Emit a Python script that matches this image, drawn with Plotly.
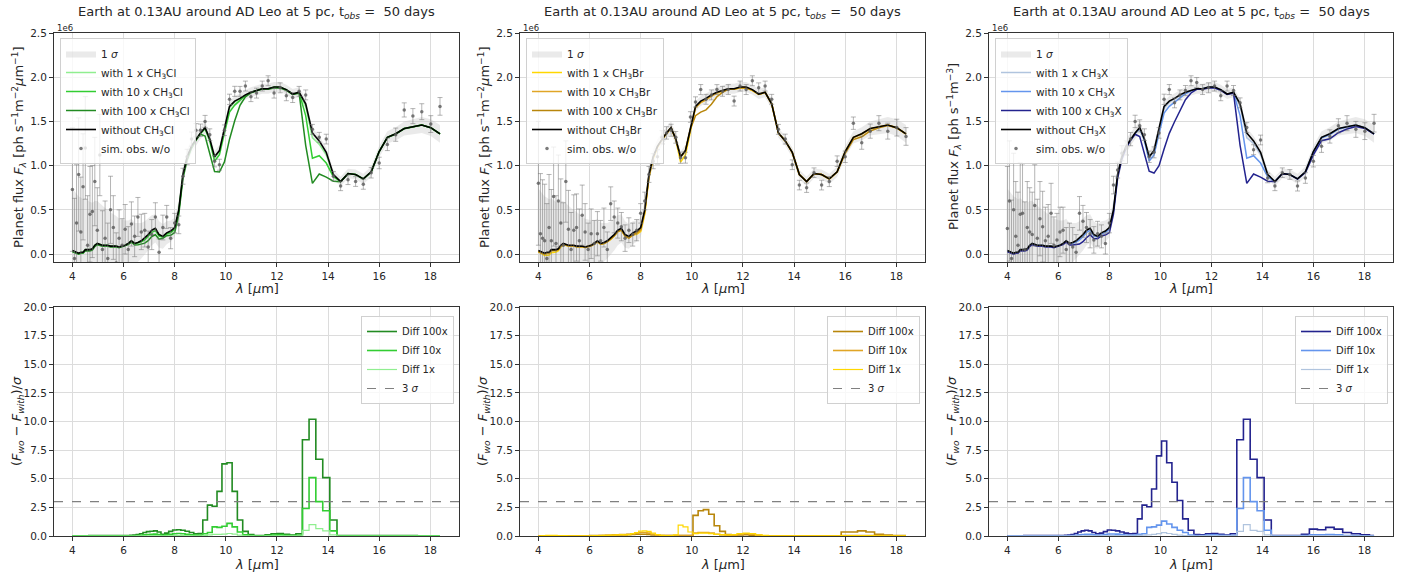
import numpy as np
import plotly.graph_objects as go

# ---------------- data ----------------
wavelength = [4.000, 4.080, 4.162, 4.245, 4.330, 4.416, 4.505, 4.595, 4.687, 4.780,
              4.876, 4.974, 5.073, 5.174, 5.278, 5.383, 5.491, 5.601, 5.713, 5.827,
              5.944, 6.063, 6.184, 6.308, 6.434, 6.562, 6.694, 6.828, 6.964, 7.103,
              7.245, 7.390, 7.538, 7.689, 7.843, 8.000, 8.160, 8.323, 8.489, 8.659,
              8.832, 9.009, 9.189, 9.373, 9.560, 9.751, 9.946, 10.145, 10.348, 10.555,
              10.766, 10.982, 11.201, 11.425, 11.654, 11.887, 12.125, 12.367, 12.615, 12.867,
              13.124, 13.387, 13.654, 13.928, 14.206, 14.490, 14.780, 15.076, 15.377, 15.685,
              15.998, 16.318, 16.645, 16.978, 17.317, 17.664, 18.017, 18.377]

# planet flux without the molecule (units of 1e6 ph s^-1 m^-2 um^-1)
flux_without = [0.04, 0.03, 0.02, 0.01, 0.02, 0.02, 0.05, 0.05, 0.05, 0.06,
                0.10, 0.12, 0.11, 0.10, 0.10, 0.10, 0.09, 0.09, 0.09, 0.08,
                0.09, 0.10, 0.12, 0.15, 0.12, 0.13, 0.15, 0.18, 0.22, 0.27,
                0.29, 0.22, 0.20, 0.24, 0.26, 0.30, 0.50, 0.90, 1.10, 1.22,
                1.30, 1.37, 1.43, 1.30, 1.10, 1.17, 1.42, 1.67, 1.73, 1.76,
                1.80, 1.83, 1.85, 1.87, 1.87, 1.89, 1.89, 1.86, 1.81, 1.83,
                1.70, 1.37, 1.28, 1.15, 0.90, 0.82, 0.91, 0.90, 0.85, 0.93,
                1.16, 1.32, 1.36, 1.42, 1.44, 1.46, 1.43, 1.36]

# 1 sigma noise (units of 1e6)
sigma = [0.70, 0.68, 0.66, 0.64, 0.62, 0.60, 0.58, 0.56, 0.54, 0.52,
         0.50, 0.48, 0.46, 0.44, 0.42, 0.40, 0.38, 0.36, 0.34, 0.32,
         0.30, 0.28, 0.26, 0.25, 0.23, 0.22, 0.20, 0.19, 0.18, 0.17,
         0.16, 0.15, 0.14, 0.13, 0.12, 0.11, 0.10, 0.09, 0.085, 0.08,
         0.075, 0.07, 0.068, 0.066, 0.064, 0.062, 0.060, 0.058, 0.057, 0.056,
         0.056, 0.056, 0.056, 0.056, 0.056, 0.056, 0.056, 0.056, 0.056, 0.056,
         0.056, 0.056, 0.056, 0.055, 0.054, 0.053, 0.054, 0.055, 0.057, 0.060,
         0.065, 0.070, 0.075, 0.080, 0.085, 0.090, 0.095, 0.100]

# simulated observations (units of 1e6), one per panel
obs_ch3cl = [0.73, -0.05, 0.35, 0.90, 0.25, 0.76, 1.20, 0.10, 0.45, 0.48,
             0.82, 0.27, 1.12, 0.05, 0.18, -0.05, 0.50, 0.30, -0.10, 0.18,
             0.10, 0.28, 0.05, 0.34, 0.20, 0.42, 0.25, 0.27, 0.08, 0.22,
             0.42, 0.02, 0.30, 0.42, 0.18, 0.35, 0.33, 0.88, 1.10, 1.30,
             1.40, 1.40, 1.50, 1.35, 1.05, 1.01, 1.40, 1.75, 1.84, 1.84,
             1.90, 1.78, 1.82, 1.90, 1.96, 1.82, 1.88, 1.79, 1.77, 1.84,
             1.80, 1.41, 1.32, 1.30, 0.88, 0.77, 0.84, 0.82, 0.79, 0.92,
             1.03, 1.24, 1.35, 1.63, 1.56, 1.61, 1.47, 1.67]
obs_ch3br = [0.80, 0.23, 0.18, 0.15, -0.05, 0.30, 0.15, 0.65, 0.12, 0.60,
             0.35, 0.10, 0.82, 0.28, 0.05, 0.27, 0.30, 0.15, 0.44, 0.25,
             0.05, 0.23, 0.12, 0.23, 0.15, 0.30, 0.05, 0.57, 0.42, 0.35,
             0.31, 0.18, 0.27, 0.22, 0.27, 0.46, 0.60, 0.90, 1.05, 1.10,
             1.32, 1.37, 1.40, 1.32, 1.09, 1.09, 1.55, 1.72, 1.86, 1.75,
             1.80, 1.86, 1.84, 1.86, 1.73, 1.90, 1.86, 1.96, 1.88, 1.90,
             1.75, 1.41, 1.30, 1.01, 0.78, 0.75, 0.92, 0.78, 0.82, 1.05,
             1.10, 1.48, 1.26, 1.39, 1.48, 1.39, 1.43, 1.33]
obs_ch3x = [0.29, 0.60, -0.05, 0.50, 0.20, 0.10, 0.45, 0.46, 0.05, 0.30,
            0.25, 0.22, 0.55, 0.18, 0.40, 0.31, 0.15, 0.20, 0.46, 0.10,
            0.16, 0.25, 0.27, 0.05, 0.12, 0.08, 0.02, 0.46, 0.37, 0.30,
            0.23, 0.16, 0.23, 0.20, 0.12, 0.35, 0.78, 0.95, 1.14, 1.20,
            1.30, 1.50, 1.45, 1.35, 1.10, 1.15, 1.37, 1.75, 1.86, 1.71,
            1.80, 1.85, 1.96, 1.94, 1.86, 1.88, 1.90, 1.79, 1.90, 1.85,
            1.71, 1.43, 1.18, 1.29, 0.86, 0.77, 0.92, 0.90, 0.77, 0.86,
            1.05, 1.22, 1.33, 1.45, 1.48, 1.41, 1.39, 1.48]

# (F_wo - F_with)/sigma for 100x, 10x, 1x abundances
diff_ch3cl_100 = [0.02, 0.02, 0.02, 0.02, 0.02, 0.02, 0.02, 0.02, 0.03, 0.03,
                  0.03, 0.03, 0.03, 0.03, 0.03, 0.03, 0.03, 0.03, 0.03, 0.03,
                  0.03, 0.04, 0.05, 0.06, 0.08, 0.12, 0.20, 0.30, 0.38, 0.42,
                  0.45, 0.35, 0.15, 0.25, 0.40, 0.52, 0.55, 0.50, 0.42, 0.30,
                  0.20, 0.22, 1.40, 2.70, 2.60, 3.90, 6.30, 6.40, 3.90, 1.40,
                  0.40, 0.12, 0.05, 0.05, 0.10, 0.20, 0.22, 0.15, 0.08, 0.20,
                  8.40, 10.20, 6.70, 5.10, 1.40, 0.04, 0.03, 0.03, 0.03, 0.03,
                  0.03, 0.03, 0.03, 0.03, 0.03, 0.02, 0.02, 0.02]
diff_ch3cl_10 = [0.01, 0.01, 0.01, 0.01, 0.01, 0.01, 0.01, 0.01, 0.01, 0.01,
                 0.01, 0.01, 0.01, 0.01, 0.01, 0.01, 0.01, 0.01, 0.01, 0.01,
                 0.01, 0.01, 0.01, 0.02, 0.02, 0.03, 0.06, 0.10, 0.13, 0.15,
                 0.16, 0.12, 0.06, 0.10, 0.15, 0.20, 0.22, 0.20, 0.15, 0.10,
                 0.08, 0.08, 0.20, 0.30, 0.80, 0.75, 0.85, 1.10, 0.80, 0.35,
                 0.10, 0.03, 0.02, 0.02, 0.04, 0.08, 0.10, 0.06, 0.03, 0.06,
                 2.40, 5.10, 3.00, 2.20, 0.45, 0.01, 0.01, 0.01, 0.01, 0.01,
                 0.01, 0.01, 0.01, 0.01, 0.01, 0.01, 0.01, 0.01]
diff_ch3cl_1 = [0.00, 0.00, 0.00, 0.00, 0.00, 0.00, 0.00, 0.00, 0.00, 0.00,
                0.00, 0.00, 0.00, 0.00, 0.00, 0.00, 0.00, 0.00, 0.00, 0.00,
                0.00, 0.00, 0.00, 0.00, 0.00, 0.01, 0.01, 0.02, 0.02, 0.03,
                0.03, 0.02, 0.01, 0.02, 0.03, 0.04, 0.04, 0.04, 0.03, 0.02,
                0.01, 0.01, 0.05, 0.10, 0.15, 0.15, 0.17, 0.22, 0.17, 0.07,
                0.02, 0.01, 0.00, 0.00, 0.01, 0.01, 0.02, 0.01, 0.01, 0.02,
                0.50, 1.00, 0.65, 0.45, 0.10, 0.00, 0.00, 0.00, 0.00, 0.00,
                0.00, 0.00, 0.00, 0.00, 0.00, 0.00, 0.00, 0.00]

diff_ch3br_100 = [0.02, 0.02, 0.02, 0.02, 0.02, 0.02, 0.02, 0.02, 0.02, 0.02,
                  0.02, 0.02, 0.02, 0.02, 0.02, 0.02, 0.02, 0.02, 0.02, 0.02,
                  0.02, 0.03, 0.03, 0.04, 0.04, 0.05, 0.06, 0.07, 0.08, 0.09,
                  0.10, 0.10, 0.12, 0.14, 0.15, 0.15, 0.15, 0.14, 0.10, 0.06,
                  0.04, 0.04, 0.04, 0.05, 0.05, 0.05, 0.05, 1.80, 2.20, 2.30,
                  1.90, 0.90, 0.40, 0.12, 0.08, 0.10, 0.12, 0.08, 0.05, 0.02,
                  0.02, 0.02, 0.02, 0.02, 0.02, 0.02, 0.02, 0.02, 0.02, 0.02,
                  0.35, 0.35, 0.45, 0.35, 0.15, 0.08, 0.05, 0.03]
diff_ch3br_10 = [0.01, 0.01, 0.01, 0.01, 0.01, 0.01, 0.01, 0.01, 0.01, 0.01,
                 0.01, 0.01, 0.01, 0.01, 0.01, 0.01, 0.01, 0.01, 0.01, 0.01,
                 0.01, 0.01, 0.02, 0.02, 0.03, 0.03, 0.04, 0.05, 0.08, 0.10,
                 0.12, 0.12, 0.15, 0.20, 0.25, 0.30, 0.30, 0.25, 0.15, 0.08,
                 0.05, 0.03, 0.03, 0.03, 0.03, 0.03, 0.03, 0.25, 0.30, 0.30,
                 0.25, 0.15, 0.10, 0.05, 0.08, 0.15, 0.20, 0.15, 0.06, 0.02,
                 0.01, 0.01, 0.01, 0.01, 0.01, 0.01, 0.01, 0.01, 0.01, 0.02,
                 0.05, 0.05, 0.05, 0.05, 0.03, 0.02, 0.01, 0.01]
diff_ch3br_1 = [0.02, 0.02, 0.03, 0.04, 0.05, 0.05, 0.06, 0.05, 0.05, 0.04,
                0.04, 0.03, 0.03, 0.02, 0.02, 0.02, 0.02, 0.02, 0.02, 0.02,
                0.02, 0.02, 0.03, 0.03, 0.04, 0.05, 0.06, 0.07, 0.08, 0.10,
                0.12, 0.10, 0.12, 0.20, 0.30, 0.42, 0.45, 0.40, 0.25, 0.12,
                0.05, 0.03, 0.03, 0.10, 0.95, 0.80, 0.35, 0.20, 0.25, 0.25,
                0.20, 0.15, 0.12, 0.10, 0.12, 0.20, 0.25, 0.20, 0.10, 0.05,
                0.02, 0.02, 0.02, 0.02, 0.02, 0.02, 0.02, 0.02, 0.02, 0.02,
                0.03, 0.03, 0.03, 0.03, 0.02, 0.02, 0.02, 0.02]

diff_ch3x_100 = [0.02, 0.02, 0.02, 0.02, 0.02, 0.02, 0.02, 0.02, 0.03, 0.03,
                 0.03, 0.03, 0.03, 0.03, 0.03, 0.03, 0.03, 0.03, 0.03, 0.03,
                 0.03, 0.03, 0.05, 0.06, 0.08, 0.12, 0.22, 0.35, 0.45, 0.50,
                 0.45, 0.30, 0.20, 0.25, 0.38, 0.52, 0.50, 0.45, 0.35, 0.25,
                 0.20, 0.22, 1.50, 2.70, 2.55, 4.10, 7.00, 8.30, 6.40, 4.70,
                 3.10, 1.50, 0.50, 0.12, 0.10, 0.20, 0.22, 0.15, 0.08, 0.20,
                 8.40, 10.20, 6.70, 5.10, 1.40, 0.05, 0.03, 0.03, 0.03, 0.15,
                 0.60, 0.55, 0.75, 0.60, 0.30, 0.20, 0.10, 0.05]
diff_ch3x_10 = [0.01, 0.01, 0.01, 0.01, 0.01, 0.01, 0.01, 0.01, 0.01, 0.01,
                0.01, 0.01, 0.01, 0.01, 0.01, 0.01, 0.01, 0.01, 0.01, 0.01,
                0.01, 0.01, 0.02, 0.02, 0.03, 0.04, 0.07, 0.10, 0.13, 0.15,
                0.14, 0.10, 0.07, 0.09, 0.12, 0.18, 0.18, 0.16, 0.12, 0.09,
                0.07, 0.08, 0.15, 0.20, 0.75, 0.80, 0.95, 1.30, 1.05, 0.75,
                0.50, 0.30, 0.08, 0.03, 0.03, 0.08, 0.10, 0.06, 0.03, 0.06,
                2.40, 5.10, 3.00, 2.20, 0.50, 0.01, 0.01, 0.01, 0.01, 0.03,
                0.10, 0.10, 0.12, 0.10, 0.05, 0.03, 0.02, 0.01]
diff_ch3x_1 = [0.00, 0.00, 0.00, 0.00, 0.00, 0.00, 0.00, 0.00, 0.00, 0.00,
               0.00, 0.00, 0.00, 0.00, 0.00, 0.00, 0.00, 0.00, 0.00, 0.00,
               0.00, 0.00, 0.00, 0.00, 0.00, 0.01, 0.01, 0.02, 0.02, 0.03,
               0.03, 0.02, 0.01, 0.02, 0.03, 0.04, 0.04, 0.04, 0.03, 0.02,
               0.01, 0.01, 0.05, 0.08, 0.10, 0.15, 0.20, 0.30, 0.22, 0.15,
               0.08, 0.03, 0.01, 0.00, 0.01, 0.01, 0.02, 0.01, 0.01, 0.02,
               0.40, 1.00, 0.50, 0.40, 0.10, 0.00, 0.00, 0.00, 0.00, 0.00,
               0.02, 0.02, 0.02, 0.02, 0.01, 0.00, 0.00, 0.00]

x_ticks = [4, 6, 8, 10, 12, 14, 16, 18]
flux_ticks = [0.0, 0.5, 1.0, 1.5, 2.0, 2.5]
diff_ticks = [0.0, 2.5, 5.0, 7.5, 10.0, 12.5, 15.0, 17.5, 20.0]
detection_threshold = 3

panels = [
    dict(mol="CH<sub>3</sub>Cl", obs=obs_ch3cl,
         diffs=[diff_ch3cl_100, diff_ch3cl_10, diff_ch3cl_1],
         colors=["#228B22", "#32CD32", "#90EE90"],
         unit="[ph s<sup>−1</sup>m<sup>−2</sup><i>μ</i>m<sup>−1</sup>]"),
    dict(mol="CH<sub>3</sub>Br", obs=obs_ch3br,
         diffs=[diff_ch3br_100, diff_ch3br_10, diff_ch3br_1],
         colors=["#B8860B", "#E0A526", "#FFD700"],
         unit="[ph s<sup>−1</sup>m<sup>−2</sup><i>μ</i>m<sup>−1</sup>]"),
    dict(mol="CH<sub>3</sub>X", obs=obs_ch3x,
         diffs=[diff_ch3x_100, diff_ch3x_10, diff_ch3x_1],
         colors=["#23238E", "#6495ED", "#B0C4DE"],
         unit="[ph s<sup>−1</sup>m<sup>−3</sup>]"),
]
factors = ["100", "10", "1"]

# ---------------- figure ----------------
W, H = 1413, 576
FONT = "DejaVu Sans"
TXT = "#262626"
cols_px = [(54, 459), (520, 925), (989, 1393)]
top_px = (33, 262)
bot_px = (307, 536)

wl = np.array(wavelength)
fwo = np.array(flux_without)
sig = np.array(sigma)

fig = go.Figure()
layout = dict(width=W, height=H, margin=dict(l=0, r=0, t=0, b=0),
              paper_bgcolor="white", plot_bgcolor="white",
              font=dict(family=FONT, color=TXT), showlegend=True)
annotations = []
shapes = []

axis_common = dict(showline=True, linecolor="#333333", linewidth=1, mirror=True,
                   ticks="outside", ticklen=4, tickcolor="#333333",
                   showgrid=True, gridcolor="#dcdcdc", gridwidth=1, zeroline=False,
                   tickfont=dict(size=10.5, family=FONT, color=TXT), automargin=False)

for c, p in enumerate(panels):
    xl, xr = cols_px[c]
    xc = (xl + xr) / 2
    ti = c + 1          # top axes index
    bi = c + 4          # bottom axes index
    tx, ty = f"x{ti}", f"y{ti}"
    bx, by = f"x{bi}", f"y{bi}"
    lt = "legend" if ti == 1 else f"legend{ti}"
    lb = f"legend{bi}"

    layout[f"xaxis{ti}"] = dict(axis_common, domain=[xl / W, xr / W], range=[3.28, 19.12],
                                tickvals=x_ticks, anchor=ty)
    layout[f"yaxis{ti}"] = dict(axis_common, domain=[1 - top_px[1] / H, 1 - top_px[0] / H],
                                range=[-0.09, 2.5], tickvals=flux_ticks, tickformat=".1f",
                                anchor=tx)
    layout[f"xaxis{bi}"] = dict(axis_common, domain=[xl / W, xr / W], range=[3.28, 19.12],
                                tickvals=x_ticks, anchor=by)
    layout[f"yaxis{bi}"] = dict(axis_common, domain=[1 - bot_px[1] / H, 1 - bot_px[0] / H],
                                range=[0, 20], tickvals=diff_ticks, tickformat=".1f",
                                anchor=bx)

    # 1 sigma band
    band_x = np.concatenate([wl, wl[::-1]])
    band_y = np.concatenate([fwo + sig, (fwo - sig)[::-1]])
    fig.add_trace(go.Scatter(x=band_x, y=band_y, fill="toself", mode="lines",
                             line=dict(width=0), fillcolor="rgba(190,190,190,0.33)",
                             name="1 <i>σ</i>", xaxis=tx, yaxis=ty, legend=lt,
                             hoverinfo="skip"))
    # with-spectra (from the plotted difference definition)
    for k in [2, 1, 0]:
        fwith = fwo - np.array(p["diffs"][k]) * sig
        fig.add_trace(go.Scatter(x=wl, y=fwith, mode="lines",
                                 line=dict(color=p["colors"][k], width=1.5),
                                 name=f"with {factors[k]} x {p['mol']}",
                                 xaxis=tx, yaxis=ty, legend=lt))
    fig.add_trace(go.Scatter(x=wl, y=fwo, mode="lines", line=dict(color="black", width=1.6),
                             name=f"without {p['mol']}", xaxis=tx, yaxis=ty, legend=lt))
    fig.add_trace(go.Scatter(x=wl, y=p["obs"], mode="markers",
                             marker=dict(color="rgba(90,90,90,0.8)", size=3.5),
                             error_y=dict(type="data", array=sig, visible=True,
                                          color="rgba(120,120,120,0.55)", thickness=1, width=2.5),
                             name="sim. obs. w/o", xaxis=tx, yaxis=ty, legend=lt))

    # bottom: differences
    for k in range(3):
        fig.add_trace(go.Scatter(x=wl, y=p["diffs"][k], mode="lines", line_shape="hvh",
                                 line=dict(color=p["colors"][k], width=1.6 if k < 2 else 1.2),
                                 name=f"Diff {factors[k]}x", xaxis=bx, yaxis=by, legend=lb))
    fig.add_trace(go.Scatter(x=[None], y=[None], mode="lines",
                             line=dict(color="gray", width=1.2, dash="dash"),
                             name="3 <i>σ</i>", xaxis=bx, yaxis=by, legend=lb))
    shapes.append(dict(type="line", xref=f"{bx} domain", x0=0, x1=1, yref=by,
                       y0=detection_threshold, y1=detection_threshold,
                       line=dict(color="gray", width=1.2, dash="dash"), layer="above"))

    # legends
    layout[lt] = dict(x=(xl + 6) / W, y=1 - 38 / H, xanchor="left", yanchor="top",
                      bgcolor="rgba(255,255,255,0.8)", bordercolor="#d0d0d0", borderwidth=1,
                      font=dict(size=10.5, family=FONT, color=TXT), tracegroupgap=0,
                      itemwidth=30)
    layout[lb] = dict(x=(xr - 5) / W, y=1 - 316 / H, xanchor="right", yanchor="top",
                      bgcolor="rgba(255,255,255,0.8)", bordercolor="#d0d0d0", borderwidth=1,
                      font=dict(size=10, family=FONT, color=TXT), tracegroupgap=0,
                      itemwidth=30)

    # texts
    annotations.append(dict(text="Earth at 0.13AU around AD Leo at 5 pc, t<sub><i>obs</i></sub> =  50 days",
                            x=xc / W, y=1 - 12 / H, xref="paper", yref="paper",
                            xanchor="center", yanchor="middle", showarrow=False,
                            font=dict(size=13, family=FONT, color=TXT)))
    annotations.append(dict(text="1e6", x=(xl + 1) / W, y=1 - 28 / H, xref="paper", yref="paper",
                            xanchor="left", yanchor="middle", showarrow=False,
                            font=dict(size=8.5, family=FONT, color=TXT)))
    for yy in (288, 564):
        annotations.append(dict(text="<i>λ</i> [<i>μ</i>m]", x=xc / W, y=1 - yy / H,
                                xref="paper", yref="paper", xanchor="center", yanchor="middle",
                                showarrow=False, font=dict(size=13, family=FONT, color=TXT)))
    annotations.append(dict(text=f"Planet flux <i>F<sub>λ</sub></i> {p['unit']}",
                            x=(xl - 35) / W, y=1 - 147 / H, xref="paper", yref="paper",
                            xanchor="center", yanchor="middle", textangle=-90, showarrow=False,
                            font=dict(size=13, family=FONT, color=TXT)))
    annotations.append(dict(text="(<i>F<sub>wo</sub></i> − <i>F<sub>with</sub></i>)/<i>σ</i>",
                            x=(xl - 37) / W, y=1 - 421 / H, xref="paper", yref="paper",
                            xanchor="center", yanchor="middle", textangle=-90, showarrow=False,
                            font=dict(size=13, family=FONT, color=TXT)))

layout["annotations"] = annotations
layout["shapes"] = shapes
fig.update_layout(**layout)
fig.write_html("out.html")
